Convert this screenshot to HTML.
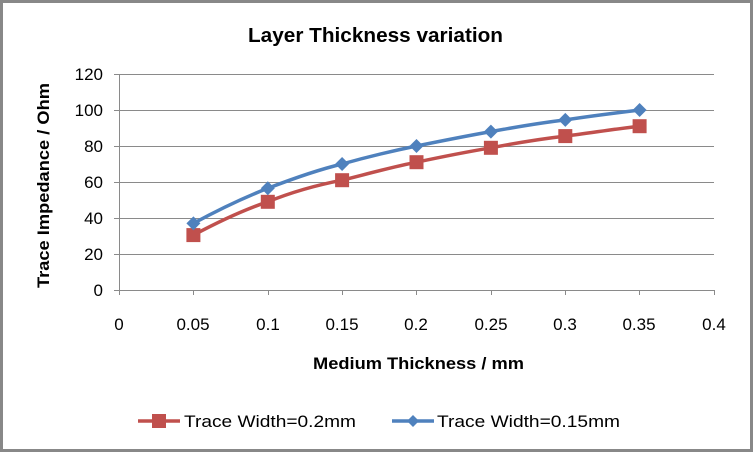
<!DOCTYPE html>
<html><head><meta charset="utf-8"><style>
html,body{margin:0;padding:0;background:#fff}
svg{display:block;font-family:"Liberation Sans",sans-serif}
</style></head><body>
<svg width="754" height="454" viewBox="0 0 754 454">
<rect x="1.5" y="1.5" width="750" height="449" fill="#fff" stroke="#888" stroke-width="3"/>
<text x="248" y="42" font-size="20" font-weight="bold" textLength="255" lengthAdjust="spacingAndGlyphs" fill="#000">Layer Thickness variation</text>
<g stroke="#8a8a8a" stroke-width="1">
<line x1="114" y1="74.5" x2="714" y2="74.5"/>
<line x1="114" y1="110.5" x2="714" y2="110.5"/>
<line x1="114" y1="146.5" x2="714" y2="146.5"/>
<line x1="114" y1="182.5" x2="714" y2="182.5"/>
<line x1="114" y1="218.5" x2="714" y2="218.5"/>
<line x1="114" y1="254.5" x2="714" y2="254.5"/>
<line x1="114" y1="290.5" x2="714" y2="290.5"/>
<line x1="119.5" y1="74" x2="119.5" y2="295"/>
<line x1="193.5" y1="290" x2="193.5" y2="295"/>
<line x1="268.5" y1="290" x2="268.5" y2="295"/>
<line x1="342.5" y1="290" x2="342.5" y2="295"/>
<line x1="416.5" y1="290" x2="416.5" y2="295"/>
<line x1="491.5" y1="290" x2="491.5" y2="295"/>
<line x1="565.5" y1="290" x2="565.5" y2="295"/>
<line x1="639.5" y1="290" x2="639.5" y2="295"/>
<line x1="714.5" y1="290" x2="714.5" y2="295"/>
</g>
<g font-size="17" fill="#000" text-anchor="end">
<text x="103" y="80">120</text><text x="103" y="116">100</text><text x="103" y="152">80</text>
<text x="103" y="188">60</text><text x="103" y="224">40</text><text x="103" y="260">20</text><text x="103" y="296">0</text>
</g>
<g font-size="17" fill="#000" text-anchor="middle">
<text x="119" y="330">0</text><text x="193" y="330">0.05</text><text x="268" y="330">0.1</text>
<text x="342" y="330">0.15</text><text x="416" y="330">0.2</text><text x="491" y="330">0.25</text>
<text x="565" y="330">0.3</text><text x="639" y="330">0.35</text><text x="714" y="330">0.4</text>
</g>
<text x="313" y="369" font-size="17" font-weight="bold" textLength="211" lengthAdjust="spacingAndGlyphs">Medium Thickness / mm</text>
<text transform="translate(49,288) rotate(-90)" font-size="17" font-weight="bold" textLength="205" lengthAdjust="spacingAndGlyphs">Trace Impedance / Ohm</text>
<path d="M193.4,235.1 C218,222 243,210 267.8,201.8 C292,192 317,185 342.1,180.2 C367,174 392,167 416.5,162.2 C441,157 466,152 490.9,147.8 C516,143 540,139 565.3,136.1 C590,133 615,129 639.6,126.2" fill="none" stroke="#c0504d" stroke-width="3.5"/>
<path d="M193.4,223.4 C218,210 243,198 267.8,188.3 C292,179 317,170 342.1,164 C367,157 392,151 416.5,146 C441,141 466,136 490.9,131.6 C516,127 540,123 565.3,119.9 C590,116 615,113 639.6,110" fill="none" stroke="#4f81bd" stroke-width="3.5"/>
<g fill="#c0504d">
<rect x="186.4" y="228.1" width="14" height="14"/><rect x="260.8" y="194.8" width="14" height="14"/>
<rect x="335.1" y="173.2" width="14" height="14"/><rect x="409.5" y="155.2" width="14" height="14"/>
<rect x="483.9" y="140.8" width="14" height="14"/><rect x="558.3" y="129.1" width="14" height="14"/>
<rect x="632.6" y="119.2" width="14" height="14"/>
</g>
<g fill="#4f81bd">
<path d="M193.4,216.4 l7,7 l-7,7 l-7,-7z"/><path d="M267.8,181.3 l7,7 l-7,7 l-7,-7z"/>
<path d="M342.1,157 l7,7 l-7,7 l-7,-7z"/><path d="M416.5,139 l7,7 l-7,7 l-7,-7z"/>
<path d="M490.9,124.6 l7,7 l-7,7 l-7,-7z"/><path d="M565.3,112.9 l7,7 l-7,7 l-7,-7z"/>
<path d="M639.6,103 l7,7 l-7,7 l-7,-7z"/>
</g>
<line x1="138" y1="421" x2="180" y2="421" stroke="#c0504d" stroke-width="3.5"/>
<rect x="152" y="414" width="14" height="14" fill="#c0504d"/>
<text x="184" y="427" font-size="17" textLength="172" lengthAdjust="spacingAndGlyphs">Trace Width=0.2mm</text>
<line x1="392" y1="421" x2="434" y2="421" stroke="#4f81bd" stroke-width="3.5"/>
<path d="M413,415 l6,6 l-6,6 l-6,-6z" fill="#4f81bd"/>
<text x="437" y="427" font-size="17" textLength="183" lengthAdjust="spacingAndGlyphs">Trace Width=0.15mm</text>
</svg>
</body></html>
